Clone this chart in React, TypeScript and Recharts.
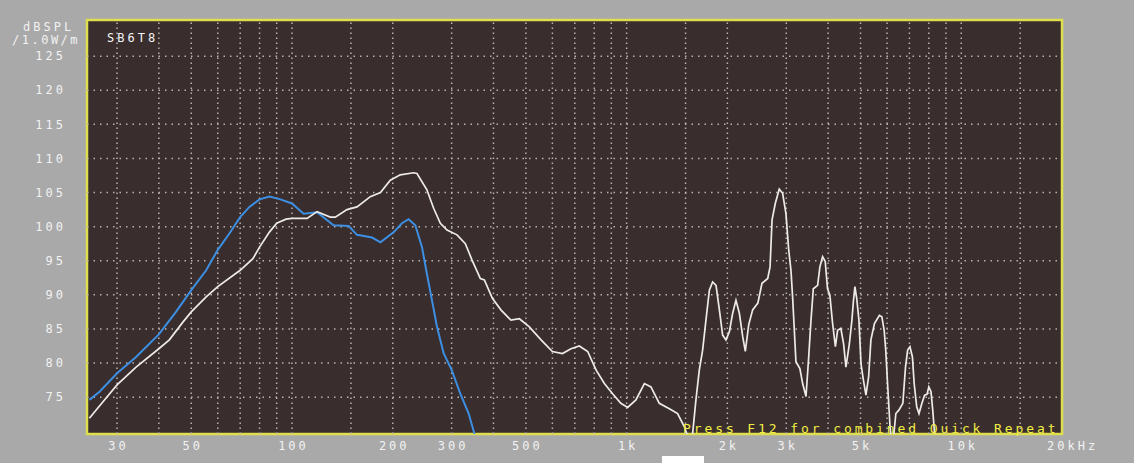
import { LineChart, Line, XAxis, YAxis, CartesianGrid, ReferenceLine, ReferenceArea } from 'recharts';

// frequency response (Hz / dB SPL)
const WHITE_HZ = [
  24.8, 27.2, 30, 34.2, 40, 43, 47.2, 50, 55.4, 60, 70, 76.4, 80, 85.6, 90, 96, 100, 110.9, 118.8, 130.1,
  134.7, 146, 156.4, 171.4, 183.8, 196.7, 210.6, 230.9, 236.3, 253, 265, 277.5, 290.6, 311.3, 329.6, 345.2,
  365.5, 375.7, 397, 421, 451, 478, 512, 555, 600, 643, 682, 722, 765, 810, 858, 908, 961, 1007, 1066, 1130,
  1182, 1252, 1342, 1420, 1487, 1521, 1545, 1575, 1611, 1649, 1687, 1726, 1767, 1807, 1850, 1893, 1936, 1981,
  2028, 2074, 2122, 2172, 2222, 2263, 2316, 2380, 2467, 2538, 2640, 2683, 2720, 2781, 2858, 2925, 2993, 3050,
  3098, 3133, 3206, 3294, 3357, 3436, 3500, 3556, 3613, 3722, 3780, 3852, 3922, 3984, 4048, 4126, 4206, 4270,
  4366, 4450, 4522, 4630, 4712, 4760, 4810, 4870, 4945, 5016, 5100, 5190, 5287, 5370, 5502, 5693, 5790, 5884,
  5947, 6030, 6125, 6230, 6376, 6508, 6690, 6813, 6914, 7026, 7146, 7231, 7360, 7476, 7628, 7770, 7900, 8000,
  8120, 8218, 8330, 8500,
];
const WHITE_DB = [
  71.9, 74.3, 76.8, 79.4, 82.1, 83.4, 86.0, 87.5, 89.7, 91.2, 93.6, 95.3, 97.0, 99.2, 100.5, 101.1, 101.2, 101.2, 102.2, 101.4,
  101.4, 102.5, 102.9, 104.4, 105.0, 106.8, 107.6, 107.9, 107.8, 105.4, 102.7, 100.5, 99.5, 98.8, 97.5, 95.1,
  92.4, 92.2, 89.5, 87.8, 86.3, 86.5, 85.3, 83.4, 81.7, 81.4, 82.1, 82.5, 81.7, 79.0, 77.0, 75.5, 74.1, 73.5, 74.6, 77.0,
  76.5, 74.1, 73.3, 72.6, 70.7, 69.3, 68.0, 69.7, 74.6, 79.0, 81.9, 86.3, 90.7, 91.9, 91.4, 87.8, 84.1, 83.4,
  84.6, 87.3, 89.2, 87.3, 83.9, 81.7, 85.6, 87.8, 88.8, 91.7, 92.4, 94.1, 101.0, 103.4, 105.5, 104.9, 101.9, 96.6,
  93.6, 89.7, 80.2, 79.2, 77.0, 75.1, 80.9, 86.3, 90.9, 91.4, 94.1, 95.6, 94.9, 90.9, 90.0, 85.8, 82.4, 84.8,
  85.1, 82.8, 79.4, 82.8, 86.3, 89.0, 91.2, 89.5, 86.3, 79.9, 77.5, 75.3, 78.0, 83.4, 85.8, 87.0, 86.8, 84.8,
  81.9, 76.5, 70.7, 67.5, 72.6, 73.1, 74.1, 79.4, 81.9, 82.4, 80.9, 77.0, 73.6, 72.6, 74.1, 75.3, 75.4, 76.5,
  75.8, 73.1, 69.4, 66.0,
];

const BLUE_HZ = [
  24.8, 26.6, 30, 34.2, 40, 45, 50, 55.4, 60, 65, 70, 74.6, 80, 85.6, 92.3, 100, 108.3, 118.8, 133.1, 147.7,
  156.4, 173.5, 183.8, 201.5, 213.1, 223, 233.6, 244.6, 253, 262, 271.3, 284, 300, 318.4, 337.2, 350.5, 362,
];
const BLUE_DB = [
  74.6, 75.8, 78.5, 80.9, 84.2, 87.5, 90.7, 93.6, 96.6, 99.0, 101.4, 102.9, 104.0, 104.4, 104.0, 103.4, 101.9, 102.1, 100.2, 100.1,
  98.8, 98.4, 97.7, 99.2, 100.5, 101.1, 100.2, 97.0, 93.1, 89.2, 85.3, 81.4, 79.0, 75.5, 72.6, 69.7, 67.5,
];

const X_TICKS = [30, 50, 100, 200, 300, 500, 1000, 2000, 3000, 5000, 10000, 20000];
const X_TICK_LABELS = ['30', '50', '100', '200', '300', '500', '1k', '2k', '3k', '5k', '10k', '20kHz'];
const Y_TICKS = [75, 80, 85, 90, 95, 100, 105, 110, 115, 120, 125];
const GRID_HZ = [
  30, 40, 50, 60, 70, 80, 90, 100, 150, 200, 300, 400, 500, 600, 700, 800, 900, 1000, 1500,
  2000, 3000, 4000, 5000, 6000, 7000, 8000, 9000, 10000, 15000,
];

const X_DOMAIN = [24.4, 20000];
const Y_DOMAIN = [69.6, 130.3];

const whiteData = WHITE_HZ.map((hz, i) => ({ hz, db: WHITE_DB[i] }));
const blueData = BLUE_HZ.map((hz, i) => ({ hz, db: BLUE_DB[i] }));

const FONT = '"DejaVu Sans Mono", monospace';
const LABEL = '#f2f2f2';

const XTick = (props: any) => {
  const { x, y, payload } = props;
  const label = X_TICK_LABELS[X_TICKS.indexOf(payload.value)];
  const last = payload.value === 20000;
  return (
    <text
      x={last ? x - 15 : x + 1.5}
      y={y + 4}
      dy="0.35em"
      textAnchor={last ? 'start' : 'middle'}
      fill={LABEL}
      fontFamily={FONT}
      fontSize={12}
      letterSpacing={3}
    >
      {label}
    </text>
  );
};

const YTick = (props: any) => {
  const { x, y, payload } = props;
  return (
    <text x={x - 13} y={y} dy="0.35em" textAnchor="end" fill={LABEL} fontFamily={FONT} fontSize={12} letterSpacing={3}>
      {payload.value}
    </text>
  );
};

export default function App() {
  return (
    <div style={{ position: 'absolute', left: 0, top: 0, width: 1134, height: 463, background: '#a9a9a9', overflow: 'hidden' }}>
      <LineChart width={1134} height={463} margin={{ top: 20, right: 72, bottom: 0, left: 0 }}>
        <CartesianGrid horizontal={false} vertical={false} fill="#392d2d" fillOpacity={1} />
        <XAxis
          dataKey="hz"
          type="number"
          scale="log"
          domain={X_DOMAIN}
          allowDataOverflow
          ticks={X_TICKS}
          height={29}
          axisLine={false}
          tickLine={false}
          tick={<XTick />}
          interval={0}
        />
        <YAxis
          dataKey="db"
          type="number"
          domain={Y_DOMAIN}
          allowDataOverflow
          ticks={Y_TICKS}
          width={87}
          axisLine={false}
          tickLine={false}
          tick={<YTick />}
          interval={0}
        />
        {GRID_HZ.map(hz => (
          <ReferenceLine key={'v' + hz} x={hz} stroke="#b9b2b2" strokeWidth={1.5} strokeDasharray="1.5 3.5" />
        ))}
        {Y_TICKS.map(db => (
          <ReferenceLine key={'h' + db} y={db} stroke="#b9b2b2" strokeWidth={1.5} strokeDasharray="1.5 5" />
        ))}
        <Line data={blueData} dataKey="db" type="linear" stroke="#3c8fe2" strokeWidth={2} dot={false} isAnimationActive={false} />
        <Line data={whiteData} dataKey="db" type="linear" stroke="#eeeaea" strokeWidth={1.7} dot={false} isAnimationActive={false} />
        <ReferenceArea
          x1={X_DOMAIN[0]}
          x2={X_DOMAIN[1]}
          y1={Y_DOMAIN[0]}
          y2={Y_DOMAIN[1]}
          fill="none"
          stroke="#dede4e"
          strokeWidth={2.5}
        />
      </LineChart>
      <svg width={1134} height={463} style={{ position: 'absolute', left: 0, top: 0, pointerEvents: 'none' }}>
        <text x={23} y={31} fill={LABEL} fontFamily={FONT} fontSize={12} letterSpacing={3}>dBSPL</text>
        <text x={12} y={44} fill={LABEL} fontFamily={FONT} fontSize={12} letterSpacing={2.5}>/1.0W/m</text>
        <text x={107} y={42} fill="#f4f4f4" fontFamily={FONT} fontSize={12} letterSpacing={3}>SB6T8</text>
        <text x={683} y={433} fill="#f0ee45" fontFamily={FONT} fontSize={13} letterSpacing={2.9}>
          Press F12 for combined Quick Repeat
        </text>
        <rect x={662} y={456} width={42} height={8} fill="#ffffff" />
      </svg>
    </div>
  );
}
